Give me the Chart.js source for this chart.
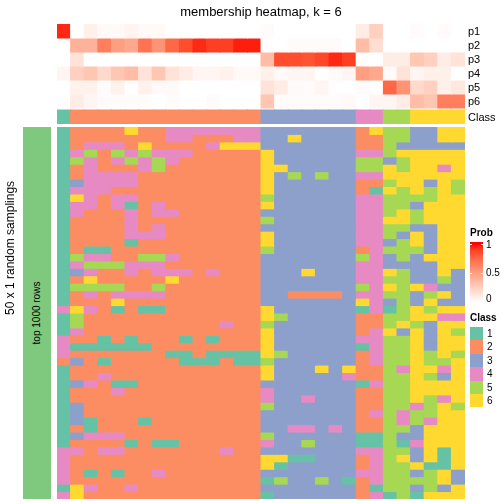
<!DOCTYPE html>
<html><head><meta charset="utf-8">
<script src="https://cdn.jsdelivr.net/npm/chart.js@4.4.0/dist/chart.umd.min.js"></script>
<style>
html,body{margin:0;padding:0;background:#fff;}
#wrap{position:relative;width:504px;height:504px;overflow:hidden;font-family:"Liberation Sans",Arial,Helvetica,sans-serif;color:#000;}
canvas{position:absolute;left:0;top:0;}
.t{position:absolute;white-space:nowrap;line-height:1;}
</style></head><body><div id="wrap">
<canvas id="topc" width="504" height="504"></canvas>
<canvas id="botc" width="504" height="504"></canvas>
</div>
<script>
// ---------------- data ----------------
const samples = ['s01','s02','s03','s04','s05','s06','s07','s08','s09','s10','s11','s12','s13','s14','s15',
                 's16','s17','s18','s19','s20','s21','s22','s23','s24','s25','s26','s27','s28','s29','s30'];
const probLabels = ['p1','p2','p3','p4','p5','p6'];
const classLevels = ['1','2','3','4','5','6'];
const classColors = ['#66C2A5','#FC8D62','#8DA0CB','#E78AC3','#A6D854','#FFD92F'];
const probTicks = ['1','0.5','0'];
const sampleClass = [1,2,2,2,2,2,2,2,2,2,2,2,2,2,2,3,3,3,3,3,3,3,4,4,5,5,6,6,6,6];
const p1 = [0.95,0,0.08,0.03,0.03,0.06,0.03,0.03,0,0,0,0,0,0,0,0.02,0,0,0,0,0,0,0.1,0.25,0,0,0.02,0,0.02,0];
const p2 = [0,0.4,0.4,0.65,0.5,0.45,0.7,0.55,0.75,0.85,0.95,0.9,0.9,0.97,0.97,0,0,0.02,0.02,0.02,0.02,0,0.35,0.18,0,0,0,0,0,0];
const p3 = [0,0.15,0,0,0,0,0,0,0,0,0,0,0,0,0,0.35,0.85,0.85,0.83,0.87,0.95,0.9,0,0,0.1,0.1,0.3,0.25,0.1,0.15];
const p4 = [0.05,0.25,0.3,0.2,0.3,0.35,0.15,0.3,0.15,0.1,0.05,0.05,0.07,0.03,0.03,0.08,0.03,0.05,0.05,0,0.03,0.05,0.5,0.45,0.02,0.15,0.05,0.08,0.08,0];
const p5 = [0,0.07,0.07,0.02,0.07,0,0.07,0.03,0.03,0,0,0,0,0,0,0.15,0.1,0.02,0.02,0.05,0,0,0.02,0,0.75,0.55,0.2,0.25,0.08,0.12];
const p6 = [0,0.1,0.05,0.02,0.02,0.02,0.02,0,0.02,0,0,0.02,0,0,0,0.3,0.02,0.02,0.02,0.02,0.02,0.03,0,0.05,0.05,0.1,0.35,0.3,0.65,0.65];
// class per sample (column) in each of the 50 random samplings (one string per sampling)
const samplingRows = [
'122226224444444333333326553366',
'122222224422244336333322553366',
'124442622224666333333322533333',
'145254544422222633333344566666',
'154245454222222633333355356666',
'124222452222222663333355656646',
'124444222222222635353344666666',
'134444222222222633333322566365',
'144422222222222633333321656565',
'164244222222222533333344555566',
'144241242222222633333344553666',
'142224244222222333333344565666',
'122224222222222533333344665666',
'122224242222222333333344553366',
'122224442222222633333344536366',
'122221222222222633333344356366',
'121122222222222533333324555366',
'154422554222222333333354353666',
'145554442222222333333344333366',
'134224244424222333633344653363',
'126222226222222333333344553353',
'155552252222222333333354656433',
'124244442222222332222344553563',
'122262222222222333333364353633',
'464212112222222633333314156566',
'152222222222222653333322556644',
'152222222222422533333322565366',
'142222222222222633333324636365',
'422121222121222633333344556366',
'411111122222222633333314556366',
'422222221121111653333324556565',
'232122222111211533333324556556',
'122222222222222633363622546646',
'122422222222222633333422556536',
'134211222222222333333314556666',
'122242222222222433333322556666',
'122222222222222433433322556546',
'132222222222222533333322554565',
'132222222222222333333324545566',
'131222122222222333333322545466',
'121222222222222334434322553666',
'134442222222222533333311533666',
'122221211222222433533311514666',
'442442222222422333333344553616',
'422222222222222661133324563616',
'422222222222222613333324556116',
'421212242222222333333344553563',
'422222222222222153353124555563',
'164224222222222333333321553536',
'462222222222222133333324151666'
];

// ---------------- colour helpers (white -> red in Lab) ----------------
function rgbToLab(r,g,b){
  const lin=c=>{c/=255;return c<=0.04045?c/12.92:Math.pow((c+0.055)/1.055,2.4);};
  const R=lin(r),G=lin(g),B=lin(b);
  const X=(R*0.4124564+G*0.3575761+B*0.1804375)/0.95047;
  const Y=(R*0.2126729+G*0.7151522+B*0.0721750);
  const Z=(R*0.0193339+G*0.1191920+B*0.9503041)/1.08883;
  const f=t=>t>216/24389?Math.cbrt(t):(24389/27*t+16)/116;
  const fx=f(X),fy=f(Y),fz=f(Z);
  return [116*fy-16,500*(fx-fy),200*(fy-fz)];
}
function labToRgb(L,a,b){
  const fy=(L+16)/116, fx=fy+a/500, fz=fy-b/200;
  const finv=t=>{const t3=t*t*t;return t3>216/24389?t3:(116*t-16)/(24389/27);};
  const X=finv(fx)*0.95047, Y=finv(fy), Z=finv(fz)*1.08883;
  const R= 3.2404542*X-1.5371385*Y-0.4985314*Z;
  const G=-0.9692660*X+1.8760108*Y+0.0415560*Z;
  const B= 0.0556434*X-0.2040259*Y+1.0572252*Z;
  const gam=c=>{c=Math.max(0,Math.min(1,c));return Math.round(255*(c<=0.0031308?12.92*c:1.055*Math.pow(c,1/2.4)-0.055));};
  return 'rgb('+gam(R)+','+gam(G)+','+gam(B)+')';
}
const LAB_W=rgbToLab(255,255,255), LAB_R=rgbToLab(255,0,0);
function probColor(v){
  v=Math.max(0,Math.min(1,v));
  return labToRgb(LAB_W[0]+(LAB_R[0]-LAB_W[0])*v, LAB_W[1]+(LAB_R[1]-LAB_W[1])*v, LAB_W[2]+(LAB_R[2]-LAB_W[2])*v);
}

// ---------------- charts ----------------
const cellOpts = {borderWidth:0, barPercentage:1, categoryPercentage:1, grouped:false, inflateAmount:0.5};
const ROW_GAP = 2/14;  // gap between the probability rows and the Class row (row units)

const probs=[p1,p2,p3,p4,p5,p6];
const topSets = probs.map((vals,i)=>Object.assign({
  label: probLabels[i],
  data: vals.map(()=>[i,i+1]),
  backgroundColor: vals.map(v=>probColor(v))
}, cellOpts));
topSets.push(Object.assign({
  label:'Class',
  data: sampleClass.map(()=>[probs.length+ROW_GAP, probs.length+1+ROW_GAP]),
  backgroundColor: sampleClass.map(c=>classColors[c-1])
}, cellOpts));

const common = (padTop,padBottom,ymax)=>({
  responsive:false, animation:false, devicePixelRatio:1,
  layout:{padding:{left:57,right:39,top:padTop,bottom:padBottom}},
  plugins:{legend:{display:false},tooltip:{enabled:false},title:{display:false}},
  scales:{
    x:{type:'category',display:false,offset:true,grid:{display:false}},
    y:{type:'linear',display:false,reverse:true,min:0,max:ymax,grid:{display:false}}
  }
});

new Chart(document.getElementById('topc'),{
  type:'bar',
  data:{labels:samples,datasets:topSets},
  options:common(24,380,probs.length+1+ROW_GAP)
});

const botSets = samplingRows.map((row,r)=>Object.assign({
  label:'sampling '+(r+1),
  data: samples.map(()=>[r,r+1]),
  backgroundColor: row.split('').map(ch=>classColors[parseInt(ch,10)-1])
}, cellOpts));
new Chart(document.getElementById('botc'),{
  type:'bar',
  data:{labels:samples,datasets:botSets},
  options:common(127,5,samplingRows.length)
});

// ---------------- texts, annotations, legends ----------------
const wrap=document.getElementById('wrap');
function addText(txt,x,y,css){
  const d=document.createElement('div');d.className='t';d.textContent=txt;
  d.style.left=x+'px';d.style.top=y+'px';d.style.cssText+=';'+(css||'');
  wrap.appendChild(d);return d;
}
function addBox(x,y,w,h,bg){
  const d=document.createElement('div');
  d.style.cssText='position:absolute;left:'+x+'px;top:'+y+'px;width:'+w+'px;height:'+h+'px;background:'+bg;
  wrap.appendChild(d);return d;
}
addText('membership heatmap, k = 6',261,11,'font-size:13px;transform:translate(-50%,-50%)');
// row labels
probLabels.concat(['Class']).forEach((lab,i)=>{
  const yc = i<6 ? 31+14*i : 117;
  addText(lab,468,yc,'font-size:11px;transform:translateY(-50%)');
});
// left annotation
addBox(23,127,28,372,'#7FC97F');
addText('top 1000 rows',37,313,'font-size:10px;transform:translate(-50%,-50%) rotate(-90deg)');
addText('50 x 1 random samplings',10,248,'font-size:12px;transform:translate(-50%,-50%) rotate(-90deg)');
// Prob legend: bar from y 242 to 302, value v at y = 302 - 58*v
addText('Prob',470,233,'font-size:10px;font-weight:bold;transform:translateY(-50%)');
const stops=[];
for(let k=0;k<=20;k++){const v=k/20;stops.push(probColor(v)+' '+(v*58/60*100).toFixed(2)+'%');}
stops.push(probColor(1)+' 100%');
const gb=document.createElement('div');
gb.style.cssText='position:absolute;left:470px;top:242px;width:13px;height:60px;background:linear-gradient(to top,'+stops.join(',')+')';
wrap.appendChild(gb);
[244,273].forEach(y=>{addBox(470,y,2,1,'#fff');addBox(481,y,2,1,'#fff');});
addText(probTicks[0],486,245,'font-size:10px;transform:translateY(-50%)');
addText(probTicks[1],486,273,'font-size:10px;transform:translateY(-50%)');
addText(probTicks[2],486,299,'font-size:10px;transform:translateY(-50%)');
// Class legend
addText('Class',470,318,'font-size:10px;font-weight:bold;transform:translateY(-50%)');
classLevels.forEach((lab,i)=>{
  addBox(470,327+13.4*i,13,13.4,classColors[i]);
  addText(lab,487,334+13.4*i,'font-size:10px;transform:translateY(-50%)');
});
</script></body></html>
